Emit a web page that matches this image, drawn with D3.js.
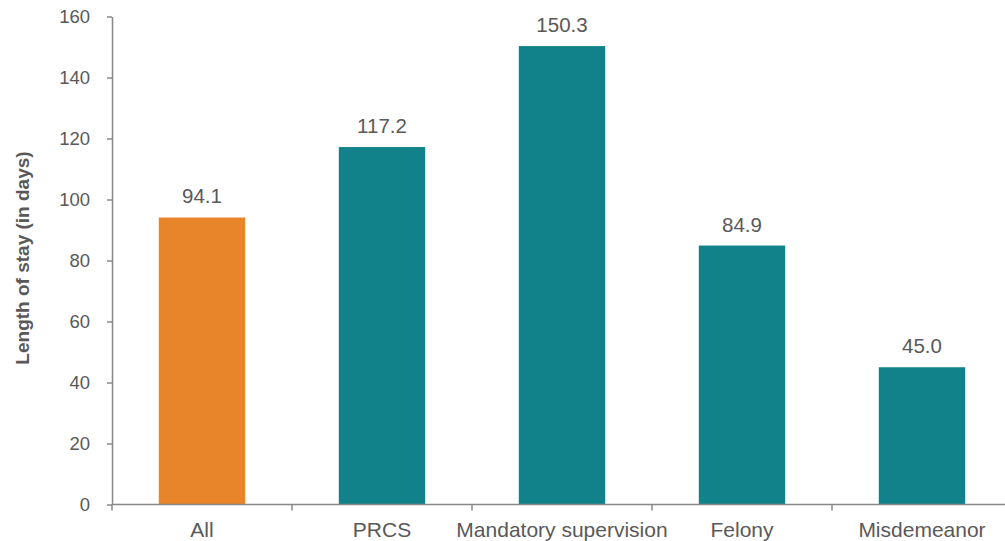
<!DOCTYPE html>
<html>
<head>
<meta charset="utf-8">
<script src="https://cdn.jsdelivr.net/npm/d3@7"></script>
<style>
  body { margin: 0; background: #fff; }
  svg { display: block; font-family: Arial, "Liberation Sans", sans-serif; }
</style>
</head>
<body>
<script>
'use strict';

// data
const categories = ["All", "PRCS", "Mandatory supervision", "Felony", "Misdemeanor"]
const values = [94.1, 117.2, 150.3, 84.9, 45.0]
const barColors = ["#E8842A", "#11818A", "#11818A", "#11818A", "#11818A"]
const yTicks = [0, 20, 40, 60, 80, 100, 120, 140, 160]

const m = {
  width: 1005,
  height: 541,
  left: 112,
  top: 16.5,
  bottom: 504.5
}

const axisColor = "#888888"
const textColor = "#595959"

const svg = d3.select('body')
  .append('svg')
  .attr('width', m.width)
  .attr('height', m.height)

// scales
const x = d3.scaleBand()
  .domain(categories)
  .range([m.left, m.left + 180 * categories.length])
  .paddingInner(0.52)
  .paddingOuter(0.26)

const y = d3.scaleLinear()
  .domain([0, 160])
  .range([m.bottom, m.top])

// bars
svg.selectAll('rect.bar')
  .data(categories)
  .enter()
  .append('rect')
  .attr('class', 'bar')
  .attr('x', d => x(d))
  .attr('y', (d, i) => y(values[i]))
  .attr('width', x.bandwidth())
  .attr('height', (d, i) => y(0) - y(values[i]))
  .style('fill', (d, i) => barColors[i])

// value labels
svg.selectAll('text.val')
  .data(categories)
  .enter()
  .append('text')
  .attr('class', 'val')
  .attr('x', d => x(d) + x.bandwidth() / 2)
  .attr('y', (d, i) => y(values[i]) - 14)
  .attr('text-anchor', 'middle')
  .style('font-size', '20.5px')
  .style('fill', textColor)
  .text((d, i) => values[i].toFixed(1))

// y axis
const yAxis = svg.append('g')
  .attr('transform', 'translate(' + m.left + ',0)')
  .call(d3.axisLeft(y).tickValues(yTicks).tickSize(5).tickPadding(17).tickSizeOuter(0))
yAxis.select('.domain').attr('stroke', axisColor).attr('stroke-width', 1.5)
yAxis.selectAll('.tick line').attr('stroke', axisColor).attr('stroke-width', 1.5)
yAxis.selectAll('.tick text')
  .style('font-size', '18.5px')
  .style('font-family', 'Arial, "Liberation Sans", sans-serif')
  .style('fill', textColor)

// x axis: line plus ticks at category boundaries
const xg = svg.append('g').attr('class', 'x-axis')
xg.append('line')
  .attr('x1', m.left).attr('x2', m.width)
  .attr('y1', y(0)).attr('y2', y(0))
  .attr('stroke', axisColor).attr('stroke-width', 1.5)

xg.selectAll('line.tk')
  .data(categories.map((d, i) => m.left + i * x.step()))
  .enter()
  .append('line')
  .attr('class', 'tk')
  .attr('x1', d => d).attr('x2', d => d)
  .attr('y1', y(0)).attr('y2', y(0) + 6)
  .attr('stroke', axisColor).attr('stroke-width', 1.5)

xg.selectAll('text.cat')
  .data(categories)
  .enter()
  .append('text')
  .attr('class', 'cat')
  .attr('x', d => x(d) + x.bandwidth() / 2)
  .attr('y', 537)
  .attr('text-anchor', 'middle')
  .style('font-size', '21px')
  .style('fill', textColor)
  .text(d => d)

// y axis title
svg.append('text')
  .attr('transform', 'translate(29, 258)rotate(-90)')
  .attr('text-anchor', 'middle')
  .style('font-size', '19px')
  .style('font-weight', 'bold')
  .style('fill', textColor)
  .text('Length of stay (in days)')
</script>
</body>
</html>
